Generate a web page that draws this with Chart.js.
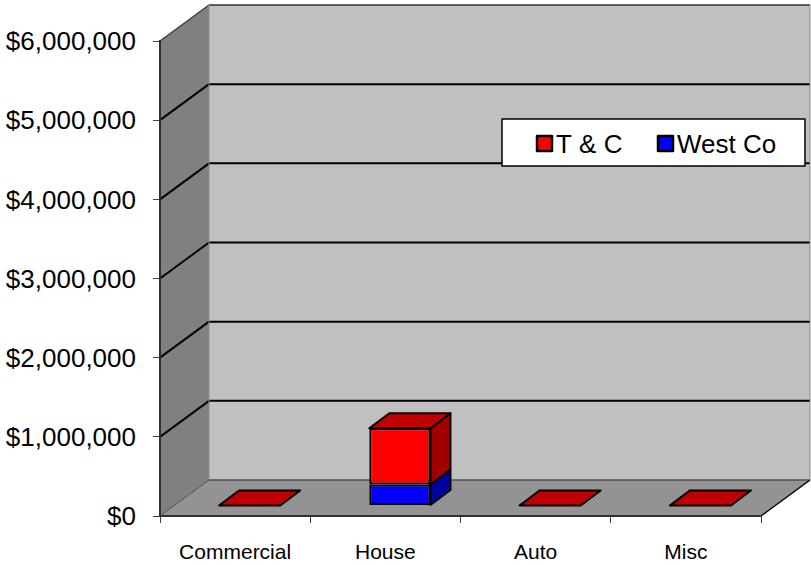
<!DOCTYPE html>
<html>
<head>
<meta charset="utf-8">
<script src="https://cdn.jsdelivr.net/npm/chart.js@4/dist/chart.umd.min.js"></script>
<style>html,body{margin:0;padding:0;background:#fff}canvas{display:block}</style>
</head>
<body>
<canvas id="c" width="811" height="565"></canvas>
<script>
const categories = ["Commercial", "House", "Auto", "Misc"];
const westCo = [0, 265000, 0, 0];
const tAndC = [0, 710000, 0, 0];
const yTicks = [0, 1000000, 2000000, 3000000, 4000000, 5000000, 6000000];
const legendOrder = ["T & C", "West Co"];

// Projection of the 3D look, in pixels
const WALL = {dx: 49, dy: -36};
const BAR_SHIFT = {dx: 14.5, dy: -10.5};
const BAR_DEPTH = {dx: 20, dy: -15};
const SHADE = {
  "T & C": {front: "#FF0000", top: "#C00000", side: "#A00000"},
  "West Co": {front: "#0000FF", top: "#0000C0", side: "#0000A0"}
};

function poly(ctx, pts, fill, stroke, lw) {
  ctx.beginPath();
  pts.forEach((p, i) => i ? ctx.lineTo(p[0], p[1]) : ctx.moveTo(p[0], p[1]));
  ctx.closePath();
  if (fill) { ctx.fillStyle = fill; ctx.fill(); }
  if (stroke) { ctx.strokeStyle = stroke; ctx.lineWidth = lw; ctx.lineJoin = "round"; ctx.stroke(); }
}
function seg(ctx, x1, y1, x2, y2, color, lw) {
  ctx.beginPath(); ctx.moveTo(x1, y1); ctx.lineTo(x2, y2);
  ctx.strokeStyle = color; ctx.lineWidth = lw; ctx.stroke();
}

const walls3d = {
  id: "walls3d",
  beforeDraw(chart) {
    const ctx = chart.ctx, a = chart.chartArea, y = chart.scales.y;
    const dx = WALL.dx, dy = WALL.dy;
    ctx.save();
    ctx.fillStyle = "#FFFFFF";
    ctx.fillRect(0, 0, chart.width, chart.height);
    // back wall, left wall, floor
    poly(ctx, [[a.left + dx, a.top + dy], [a.right + dx, a.top + dy], [a.right + dx, a.bottom + dy], [a.left + dx, a.bottom + dy]], "#C0C0C0");
    poly(ctx, [[a.left, a.top], [a.left + dx, a.top + dy], [a.left + dx, a.bottom + dy], [a.left, a.bottom]], "#808080");
    poly(ctx, [[a.left, a.bottom], [a.left + dx, a.bottom + dy], [a.right + dx, a.bottom + dy], [a.right, a.bottom]], "#939393");
    // gridlines across the left wall and the back wall
    yTicks.forEach(v => {
      const py = y.getPixelForValue(v);
      if (v === 0) return;
      const top = v === yTicks[yTicks.length - 1];
      seg(ctx, a.left, py, a.left + dx, py + dy, top ? "#404040" : "#000000", top ? 1.5 : 2);
      seg(ctx, a.left + dx, py + dy, a.right + dx, py + dy, top ? "#303030" : "#000000", top ? 1.5 : 2);
    });
    // edges
    seg(ctx, a.left + dx, a.top + dy, a.left + dx, a.bottom + dy, "#8C8C8C", 1);
    seg(ctx, a.left, a.bottom, a.left + dx, a.bottom + dy, "#505050", 1);
    seg(ctx, a.left + dx, a.bottom + dy, a.right + dx, a.bottom + dy, "#505050", 1.5);
    seg(ctx, a.right, a.bottom, a.right + dx, a.bottom + dy, "#000000", 1.5);
    seg(ctx, a.right + dx, a.top + dy, a.right + dx, a.bottom + dy, "#8C8C8C", 1);
    ctx.restore();
  },
  beforeDatasetsDraw(chart) {
    chart.ctx.save();
    chart.ctx.translate(BAR_SHIFT.dx, BAR_SHIFT.dy);
  },
  afterDatasetsDraw(chart) {
    const ctx = chart.ctx, n = chart.data.datasets.length;
    const dx = BAR_DEPTH.dx, dy = BAR_DEPTH.dy;
    chart.data.datasets.forEach((ds, di) => {
      const shade = SHADE[ds.label];
      chart.getDatasetMeta(di).data.forEach((bar, i) => {
        if (ds.data[i] === 0 && di !== n - 1) return;
        const p = bar.getProps(["x", "y", "base", "width"], true);
        const l = p.x - p.width / 2, r = p.x + p.width / 2;
        if (ds.data[i] !== 0) {
          poly(ctx, [[r, p.y], [r + dx, p.y + dy], [r + dx, p.base + dy], [r, p.base]], shade.side, "#000000", 2);
        }
        if (di === n - 1) {
          poly(ctx, [[l, p.y], [l + dx, p.y + dy], [r + dx, p.y + dy], [r, p.y]], shade.top, "#000000", 2);
        }
      });
    });
    ctx.restore();
  },
  afterDraw(chart) {
    const ctx = chart.ctx;
    ctx.save();
    poly(ctx, [[502, 119], [805, 119], [805, 166], [502, 166]], "#FFFFFF", "#000000", 1.5);
    const marks = [537, 658], labels = [556, 677];
    ctx.font = "26px 'Liberation Sans', Arial, sans-serif";
    ctx.textBaseline = "alphabetic";
    ctx.textAlign = "left";
    legendOrder.forEach((name, i) => {
      ctx.fillStyle = SHADE[name].front;
      ctx.strokeStyle = "#000000";
      ctx.lineWidth = 2.5;
      ctx.fillRect(marks[i], 136, 15, 15);
      ctx.strokeRect(marks[i], 136, 15, 15);
      ctx.fillStyle = "#000000";
      ctx.fillText(name, labels[i], 153);
    });
    ctx.restore();
  }
};

const canvas = document.getElementById("c");
canvas.getContext("2d", {alpha: false});
new Chart(canvas, {
  type: "bar",
  plugins: [walls3d],
  data: {
    labels: categories,
    datasets: [
      {label: "West Co", data: westCo, backgroundColor: SHADE["West Co"].front, borderColor: "#000000", borderWidth: 2, borderSkipped: false, clip: false},
      {label: "T & C", data: tAndC, backgroundColor: SHADE["T & C"].front, borderColor: "#000000", borderWidth: 2, borderSkipped: false, clip: false}
    ]
  },
  options: {
    responsive: false,
    animation: false,
    devicePixelRatio: 1,
    layout: {padding: {top: 41, right: 50, left: 0, bottom: 0}, autoPadding: false},
    datasets: {bar: {categoryPercentage: 1, barPercentage: 0.407}},
    plugins: {legend: {display: false}, title: {display: false}, tooltip: {enabled: false}},
    scales: {
      x: {
        stacked: true,
        afterFit: s => { s.height = 49; },
        border: {color: "#303030", width: 2},
        grid: {drawOnChartArea: false, drawTicks: true, tickLength: 7, color: "#404040", offset: true},
        ticks: {color: "#000000", padding: 18, font: {family: "'Liberation Sans', Arial, sans-serif", size: 21}, maxRotation: 0}
      },
      y: {
        stacked: true,
        min: 0, max: 6000000,
        afterFit: s => { s.width = 160; },
        afterBuildTicks: s => { s.ticks = yTicks.map(v => ({value: v})); },
        border: {color: "#303030", width: 2},
        grid: {drawOnChartArea: false, drawTicks: true, tickLength: 7, color: "#404040"},
        ticks: {
          color: "#000000", padding: 17, labelOffset: 2,
          font: {family: "'Liberation Sans', Arial, sans-serif", size: 26},
          callback: v => "$" + Number(v).toLocaleString("en-US")
        }
      }
    }
  }
});
</script>
</body>
</html>
